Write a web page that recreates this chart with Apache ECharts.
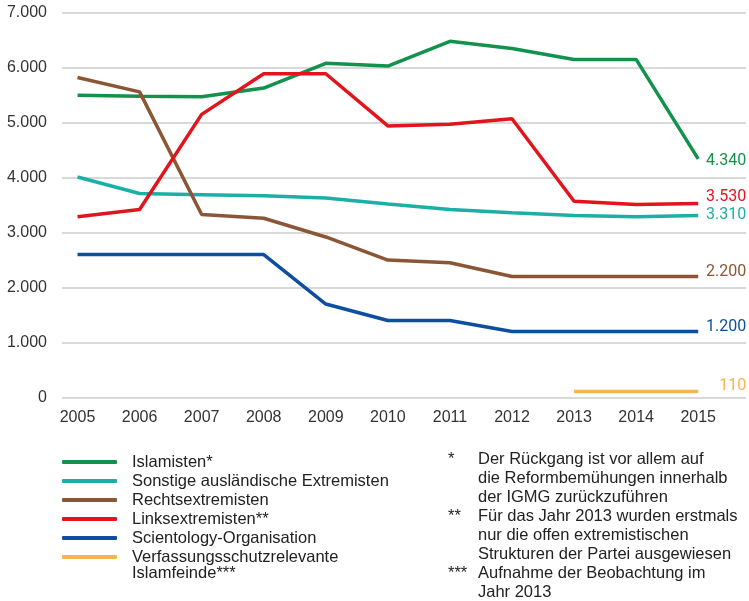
<!DOCTYPE html>
<html lang="de">
<head>
    <meta charset="UTF-8">
    <script src="https://cdn.jsdelivr.net/npm/echarts@6/dist/echarts.min.js"></script>
    <style>
        html, body {margin:0; padding:0; background:#fff;}
        #chart {width:749px; height:601px;}
    </style>
    <title>Extremisten</title>
</head>
<body>
<div id="chart"></div>
<script>
    // Jahre und Werte
    const years = [2005, 2006, 2007, 2008, 2009, 2010, 2011, 2012, 2013, 2014, 2015];
    const islamisten = [5500, 5480, 5470, 5630, 6080, 6030, 6480, 6350, 6150, 6150, 4340];
    const sonstige = [4010, 3710, 3690, 3670, 3630, 3520, 3420, 3360, 3310, 3290, 3310];
    const rechts = [5820, 5560, 3330, 3260, 2920, 2500, 2450, 2200, 2200, 2200, 2200];
    const links = [3290, 3420, 5150, 5890, 5890, 4940, 4970, 5070, 3570, 3510, 3530];
    const scientology = [2600, 2600, 2600, 2600, 1700, 1400, 1400, 1200, 1200, 1200, 1200];
    const islamfeinde = [null, null, null, null, null, null, null, null, 110, 110, 110];
    const yTicks = [0, 1000, 2000, 3000, 4000, 5000, 6000, 7000];
    const footnotes = [
        ['*', 'Der Rückgang ist vor allem auf'],
        ['', 'die Reformbemühungen innerhalb'],
        ['', 'der IGMG zurückzuführen'],
        ['**', 'Für das Jahr 2013 wurden erstmals'],
        ['', 'nur die offen extremistischen'],
        ['', 'Strukturen der Partei ausgewiesen'],
        ['***', 'Aufnahme der Beobachtung im'],
        ['', 'Jahr 2013']
    ];

    const fmt = v => String(v).replace(/\B(?=(\d{3})+(?!\d))/g, '.');
    const font = '"Liberation Sans", Arial, sans-serif';

    function mkSeries(name, values, color, dy) {
        return {
            name: name,
            type: 'line',
            data: years.map((y, i) => [y, values[i]]),
            showSymbol: false,
            symbol: 'none',
            connectNulls: false,
            lineStyle: {color: color, width: 3.5},
            itemStyle: {color: color},
            endLabel: {
                show: true,
                formatter: p => fmt(p.value[1]),
                color: color,
                fontFamily: 'Roboto, sans-serif',
                fontSize: 16,
                align: 'right',
                distance: 0,
                offset: [48, dy]
            }
        };
    }

    const chart = echarts.init(document.getElementById('chart'));

    const graphics = [{
        type: 'text', left: 132, top: 565,
        style: {text: 'Islamfeinde***', font: '16.5px ' + font, fill: '#222'}
    }];
    footnotes.forEach((f, i) => {
        graphics.push({type: 'text', left: 448, top: 451 + i * 19,
            style: {text: f[0], font: '16.5px ' + font, fill: '#222'}});
        graphics.push({type: 'text', left: 478, top: 451 + i * 19,
            style: {text: f[1], font: '16.5px ' + font, fill: '#222'}});
    });

    chart.setOption({
        animation: false,
        grid: {left: 62, right: 3, top: 12.7, bottom: 203.5, containLabel: false},
        xAxis: {
            type: 'value',
            min: 2004.75,
            max: 2015.77,
            axisLine: {show: false},
            axisTick: {show: false},
            splitLine: {show: false},
            axisLabel: {
                customValues: years,
                formatter: v => String(v),
                color: '#333',
                fontFamily: font,
                fontSize: 16,
                margin: 12
            }
        },
        yAxis: {
            type: 'value',
            min: 0,
            max: 7000,
            interval: 1000,
            axisLine: {show: false},
            axisTick: {show: false},
            splitLine: {lineStyle: {color: '#cccccc', width: 1.5}},
            axisLabel: {
                formatter: v => yTicks.includes(v) ? fmt(v) : '',
                color: '#333',
                fontFamily: font,
                fontSize: 16,
                margin: 15
            }
        },
        legend: {
            orient: 'vertical',
            left: 62,
            top: 453,
            padding: 0,
            icon: 'roundRect',
            itemWidth: 55,
            itemHeight: 4,
            itemGap: 1,
            textStyle: {color: '#222', fontFamily: font, fontSize: 16.5, lineHeight: 18, padding: [0, 0, 0, 10]},
            formatter: n => n.split('\n')[0]
        },
        graphic: graphics,
        series: [
            mkSeries('Islamisten*', islamisten, '#12924d', 2),
            mkSeries('Sonstige ausländische Extremisten', sonstige, '#1bb0a6', -1),
            mkSeries('Rechtsextremisten', rechts, '#8a5636', -5),
            mkSeries('Linksextremisten**', links, '#e2141c', -6),
            mkSeries('Scientology-Organisation', scientology, '#0d4f9e', -5),
            mkSeries('Verfassungsschutzrelevante\nIslamfeinde***', islamfeinde, '#f6b54f', -5)
        ]
    });
</script>
</body>
</html>
